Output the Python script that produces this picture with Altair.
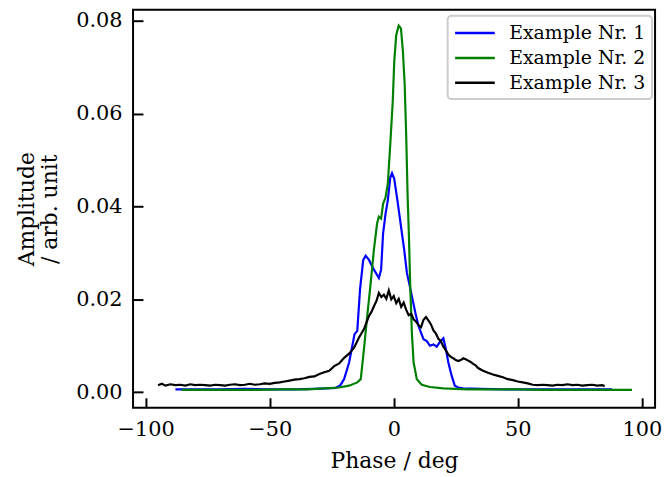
import altair as alt
import pandas as pd

series_names = ["Example Nr. 1", "Example Nr. 2", "Example Nr. 3"]
series_colors = ["#0000ff", "#008000", "#000000"]

# Example Nr. 1 (blue): phase [deg], amplitude [1e-3 arb. unit]
x1 = [-88, -80, -70, -60, -50, -40, -32, -27, -23.4, -21.5,
      -20, -18, -16.7, -15.8, -14.7, -13.6, -12.3, -11.3, -10, -8,
      -6, -5.1, -4.3, -3.3, -2.4, -1.4, -0.7, 0.2, 1.3, 2.4,
      3.3, 4.2, 5.3, 6.2, 7.3, 8.7, 10, 12, 13.3, 14.6,
      16, 17.3, 18.6, 20, 21, 22, 23.3, 24.6, 26, 28,
      35, 45, 55, 65, 75, 88]
y1 = [0.6, 0.6, 0.6, 0.7, 0.6, 0.6, 0.7, 0.8, 0.9, 1.5,
      2.8, 6.4, 10.0, 12.5, 13.2, 22.1, 28.5, 29.4, 28.5, 26.4,
      24.6, 26.4, 34.2, 38.5, 41.3, 46.3, 47.2, 46.0, 42.0, 37.8,
      34.2, 30.7, 25.7, 23.5, 20.7, 17.1, 14.2, 11.4, 11.0, 10.0,
      10.3, 9.8, 10.8, 11.6, 9.3, 6.4, 3.6, 1.4, 1.0, 0.8,
      0.7, 0.6, 0.6, 0.6, 0.6, 0.6]

# Example Nr. 2 (green)
x2 = [-85.5, -75, -65, -55, -45, -35, -28, -22, -18, -14.7,
      -13.3, -12, -10.7, -9.3, -8, -6.7, -6, -5.1, -4.3, -3.3,
      -2.4, -1.4, -0.4, 0.2, 1.0, 2.0, 2.9, 3.7, 4.4, 5.0,
      5.6, 6.1, 6.6, 7.3, 8, 9.3, 11.3, 14.6, 20, 30,
      40, 50, 60, 70, 80, 90, 96]
y2 = [0.5, 0.5, 0.5, 0.5, 0.6, 0.6, 0.8, 1.0, 1.4, 2.1,
      2.8, 9.3, 16.4, 23.5, 30.7, 36.4, 37.8, 37.4, 40.6, 42.0,
      44.9, 53.5, 62.7, 71.3, 77.0, 79.0, 78.4, 73.4, 66.3, 55.6,
      42.0, 34.0, 23.5, 12.8, 6.4, 2.8, 1.6, 1.1, 0.8, 0.6,
      0.6, 0.6, 0.5, 0.5, 0.5, 0.5, 0.5]

# Example Nr. 3 (black)
x3 = [-95, -93.5, -92, -90, -88, -86, -84, -82, -80, -78,
      -76, -74, -72, -70, -68, -66, -64, -62, -60, -58,
      -56, -54, -52, -50, -48, -46, -44, -42, -40, -38,
      -36, -34, -32, -30, -28, -26, -24, -22, -20, -18,
      -16, -14, -12, -10, -9, -8, -7, -6, -5, -4,
      -3, -2, -1, 0, 1, 2, 3, 4, 5, 6,
      7, 8, 9, 10, 11, 12, 13, 14, 15, 16,
      17, 18, 19, 20, 21, 22, 23, 24, 25, 26,
      27, 28, 29, 30, 31, 32, 33, 34, 36, 38,
      40, 42, 44, 46, 48, 50, 52, 54, 56, 58,
      60, 62, 64, 66, 68, 70, 72, 74, 76, 78,
      80, 82, 84, 85]
y3 = [1.5, 1.8, 1.4, 1.7, 1.5, 1.6, 1.4, 1.7, 1.5, 1.6,
      1.5, 1.4, 1.6, 1.5, 1.4, 1.6, 1.7, 1.5, 1.6, 1.8,
      1.6, 1.7, 1.9, 1.8, 2.0, 2.1, 2.3, 2.5, 2.7, 2.8,
      3.0, 3.3, 3.4, 3.9, 4.3, 4.6, 5.6, 6.2, 7.4, 8.3,
      9.6, 11.8, 13.6, 16.4, 17.3, 18.5, 19.6, 21.4, 20.5, 21.0,
      20.1, 21.9, 20.0, 20.7, 19.2, 20.1, 18.4, 19.3, 17.8, 16.6,
      16.9, 15.7, 15.2, 14.4, 14.0, 15.6, 16.2, 15.4, 14.6, 13.3,
      12.6, 11.5, 11.0, 9.8, 9.0, 8.1, 7.6, 7.3, 6.9, 6.7,
      6.9, 7.3, 7.1, 6.8, 6.5, 6.1, 5.8, 5.2, 4.6, 4.2,
      3.8, 3.5, 3.2, 2.8, 2.6, 2.3, 2.1, 1.9, 1.6, 1.5,
      1.6, 1.5, 1.4, 1.6, 1.5, 1.7, 1.5, 1.6, 1.4, 1.5,
      1.6, 1.4, 1.5, 1.3]

x_ticks = [-100, -50, 0, 50, 100]
y_ticks = [0.0, 0.02, 0.04, 0.06, 0.08]

frames = []
for name, xs, ys in zip(series_names, [x1, x2, x3], [y1, y2, y3]):
    frames.append(pd.DataFrame({"phase": xs, "amp": [v * 1e-3 for v in ys], "series": name}))
df = pd.concat(frames, ignore_index=True)

FONT = "DejaVu Serif"

chart = alt.Chart(df).mark_line(strokeWidth=2.2, clip=True).encode(
    x=alt.X("phase:Q",
            scale=alt.Scale(domain=[-105.08, 105.32], nice=False, zero=False),
            axis=alt.Axis(values=x_ticks, format="d", title="Phase / deg",
                          offset=-10, tickSize=10, labelPadding=11, titlePadding=11)),
    y=alt.Y("amp:Q",
            scale=alt.Scale(domain=[-0.00336, 0.08242], nice=False, zero=False),
            axis=alt.Axis(values=y_ticks, format=".2f", title=["Amplitude", "/ arb. unit"],
                          offset=-10, tickSize=10, labelPadding=11, titlePadding=14,
                          titleLineHeight=24)),
    color=alt.Color("series:N",
                    scale=alt.Scale(domain=series_names, range=series_colors),
                    legend=alt.Legend(title=None)),
).properties(
    width=526, height=401,
    autosize=alt.AutoSizeParams(type="none"),
    padding={"left": 126, "top": 0, "right": 8, "bottom": 68},
).configure_view(
    stroke="black", strokeWidth=2
).configure_axis(
    grid=False, domain=False, tickColor="black", tickWidth=2,
    labelFont=FONT, labelFontSize=21, labelColor="black", labelFlush=False,
    titleFont=FONT, titleFontSize=22, titleFontWeight="normal", titleColor="black",
).configure_legend(
    orient="none", legendX=317, legendY=6,
    fillColor="white", strokeColor="#cccccc", strokeWidth=2, cornerRadius=4,
    padding=6, rowPadding=3,
    symbolType="M-1,0L3,0", symbolSize=400, symbolStrokeWidth=2.5,
    labelFont=FONT, labelFontSize=19, labelColor="black", labelOffset=33,
)

chart.save("out.html", embed_options={"renderer": "svg", "actions": False})
